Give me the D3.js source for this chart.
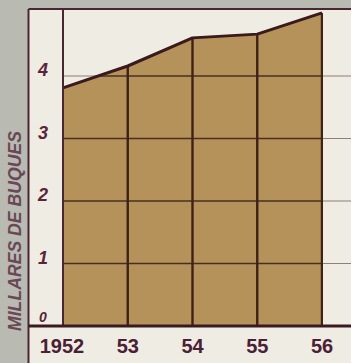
<!DOCTYPE html>
<html><head><meta charset="utf-8">
<script src="https://cdn.jsdelivr.net/npm/d3@7"></script>
<style>html,body{margin:0;padding:0;background:#b9bab2;}svg{display:block;}</style>
</head><body>
<svg id="c" width="351" height="363"></svg>
<script>
const years = [1952, 1953, 1954, 1955, 1956];
const values = [3.81, 4.16, 4.61, 4.67, 5.01];
const yTicks = [0, 1, 2, 3, 4];
const xTickLabels = ["1952", "53", "54", "55", "56"];
const yTitle = "MILLARES DE BUQUES";

const svg = d3.select("#c");
const W = 351, H = 363;
const frameL = 28.5, frameT = 9;
const x = d3.scaleLinear().domain([1952, 1956]).range([63, 322]);
const y = d3.scaleLinear().domain([0, 4]).range([326, 76]);
const data = years.map((yr, i) => ({yr, v: values[i]}));

// paper
svg.append("rect").attr("x", frameL).attr("y", frameT).attr("width", W - frameL).attr("height", H - frameT).attr("fill", "#efece4");

// light gridlines (full width)
svg.append("g").selectAll("line").data(yTicks.slice(1)).join("line")
  .attr("x1", x(1952)).attr("x2", W).attr("y1", d => y(d)).attr("y2", d => y(d))
  .attr("stroke", "#8d7f7a").attr("stroke-width", 1);

// area
const area = d3.area().x(d => x(d.yr)).y0(y(0)).y1(d => y(d.v));
svg.append("path").datum(data).attr("d", area).attr("fill", "#b4925a");

// clip for dark gridlines
svg.append("clipPath").attr("id", "ac").append("path").datum(data).attr("d", area);
const g = svg.append("g").attr("clip-path", "url(#ac)");
g.selectAll("line.h").data(yTicks.slice(1)).join("line").attr("class", "h")
  .attr("x1", x(1952)).attr("x2", W).attr("y1", d => y(d)).attr("y2", d => y(d))
  .attr("stroke", "#4a2e22").attr("stroke-width", 1.5);
g.selectAll("line.v").data(years.slice(1)).join("line").attr("class", "v")
  .attr("x1", d => x(d)).attr("x2", d => x(d)).attr("y1", 0).attr("y2", y(0))
  .attr("stroke", "#3e2218").attr("stroke-width", 2.4);

// right edge of area
svg.append("line").attr("x1", x(1956)).attr("x2", x(1956)).attr("y1", y(values[values.length-1])).attr("y2", y(0))
  .attr("stroke", "#3e2218").attr("stroke-width", 2);

// top line
const line = d3.line().x(d => x(d.yr)).y(d => y(d.v));
svg.append("path").datum(data).attr("d", line).attr("fill", "none")
  .attr("stroke", "#3a1a1c").attr("stroke-width", 3).attr("stroke-linejoin", "round");

// frame lines
svg.append("line").attr("x1", frameL).attr("x2", W).attr("y1", frameT).attr("y2", frameT)
  .attr("stroke", "#4a2630").attr("stroke-width", 2);
svg.append("line").attr("x1", frameL).attr("x2", frameL).attr("y1", frameT).attr("y2", H)
  .attr("stroke", "#4a2630").attr("stroke-width", 2);
// y axis line
svg.append("line").attr("x1", x(1952)).attr("x2", x(1952)).attr("y1", frameT).attr("y2", y(0))
  .attr("stroke", "#4a2630").attr("stroke-width", 2);
// x axis baseline
svg.append("line").attr("x1", frameL).attr("x2", W).attr("y1", y(0)).attr("y2", y(0))
  .attr("stroke", "#3a1a20").attr("stroke-width", 3.2);

// y tick labels
svg.append("g").selectAll("text").data(yTicks).join("text")
  .attr("x", 43).attr("y", d => d === 0 ? y(d) - 4 : y(d))
  .attr("text-anchor", "middle")
  .attr("font-family", "Liberation Sans, Arial, sans-serif").attr("font-style", "italic")
  .attr("font-weight", "bold")
  .attr("font-size", d => d === 0 ? 14 : 18).attr("fill", "#5a2438")
  .text(d => d);

// x tick labels
svg.append("g").selectAll("text").data(years).join("text")
  .attr("x", d => x(d) - (d === 1952 ? 1 : 0)).attr("y", 353)
  .attr("text-anchor", "middle")
  .attr("font-family", "Liberation Sans, Arial, sans-serif").attr("font-weight", "bold")
  .attr("font-size", 20).attr("fill", "#4a2035")
  .text((d, i) => xTickLabels[i]);

// y title
svg.append("text")
  .attr("transform", "translate(21,231) rotate(-90)")
  .attr("text-anchor", "middle")
  .attr("font-family", "Liberation Sans Narrow, Liberation Sans, Arial, sans-serif")
  .attr("font-style", "italic").attr("font-weight", "bold")
  .attr("font-size", 18).attr("fill", "#6a4856")
  .attr("textLength", 200).attr("lengthAdjust", "spacingAndGlyphs")
  .text(yTitle);
</script>
</body></html>
